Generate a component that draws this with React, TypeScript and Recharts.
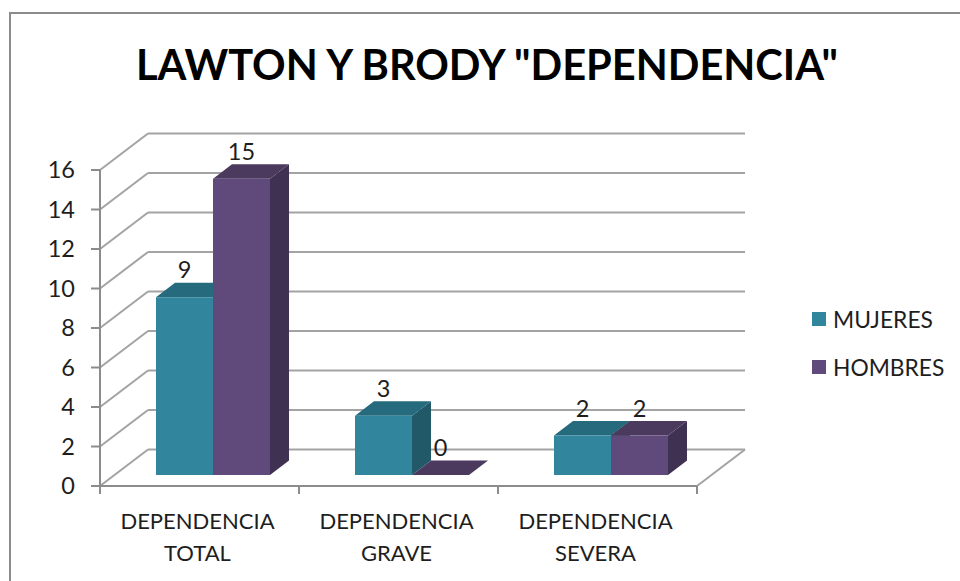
import React from 'react';
import { BarChart, Bar, XAxis, YAxis, CartesianGrid, LabelList } from 'recharts';

const categories = ['DEPENDENCIA TOTAL', 'DEPENDENCIA GRAVE', 'DEPENDENCIA SEVERA'];
const mujeres = [9, 3, 2];
const hombres = [15, 0, 2];
const yTicks = [0, 2, 4, 6, 8, 10, 12, 14, 16];

const legendItems = [
  { name: 'MUJERES', color: '#31859C' },
  { name: 'HOMBRES', color: '#604A7B' },
];

const data = categories.map((name, i) => ({ name, mujeres: mujeres[i], hombres: hombres[i] }));

const FONT = 'Lato, sans-serif';
const GRID = '#A3A3A3';
const AXIS = '#8C8C8C';
const TEXT = '#1E1E1E';

const PLOT_LEFT = 100;
const PLOT_TOP = 170;
const PLOT_W = 597;
const PLOT_H = 316;
const WALL_DX = 48;
const WALL_DY = 36.5;
const BAR_DX = 13;
const BAR_DY = 11;
const DEPTH_DX = 19;
const DEPTH_DY = 14.5;

const GridLine = (props: any) => {
  const { x1, x2, y1 } = props;
  const isFloor = Math.abs(y1 - (PLOT_TOP + PLOT_H)) < 1;
  return (
    <g stroke={GRID} strokeWidth={2} fill="none">
      <line x1={x1 + WALL_DX} y1={y1 - WALL_DY} x2={x2 + WALL_DX} y2={y1 - WALL_DY} />
      <line x1={x1} y1={y1} x2={x1 + WALL_DX} y2={y1 - WALL_DY} />
      {isFloor && <line x1={x2} y1={y1} x2={x2 + WALL_DX} y2={y1 - WALL_DY} />}
    </g>
  );
};

const Bar3D = (props: any) => {
  const { x, y, width, height, fill, topFill, sideFill } = props;
  const left = x + BAR_DX;
  const right = left + width;
  const top = y - BAR_DY;
  const bottom = top + height;
  const toPts = (pts: number[][]) => pts.map((p) => p.join(',')).join(' ');
  return (
    <g>
      <polygon
        fill={sideFill}
        points={toPts([[right, top], [right + DEPTH_DX, top - DEPTH_DY], [right + DEPTH_DX, bottom - DEPTH_DY], [right, bottom]])}
      />
      <polygon
        fill={topFill}
        points={toPts([[left, top], [left + DEPTH_DX, top - DEPTH_DY], [right + DEPTH_DX, top - DEPTH_DY], [right, top]])}
      />
      {height > 0 && <rect x={left} y={top} width={width} height={height} fill={fill} />}
    </g>
  );
};

const BarValue = (props: any) => {
  const { x, y, width, value } = props;
  return (
    <text x={x + BAR_DX + width / 2} y={y - 30} textAnchor="middle" fontFamily={FONT} fontSize={23.5} fill={TEXT}>
      {value}
    </text>
  );
};

const CategoryTick = (props: any) => {
  const { x, payload, index } = props;
  const band = PLOT_W / categories.length;
  const words = String(payload.value).split(' ');
  const axisY = PLOT_TOP + PLOT_H;
  return (
    <g>
      <line x1={x - band / 2} y1={axisY} x2={x - band / 2} y2={axisY + 8} stroke={AXIS} strokeWidth={2} />
      {index === categories.length - 1 && (
        <line x1={x + band / 2} y1={axisY} x2={x + band / 2} y2={axisY + 8} stroke={AXIS} strokeWidth={2} />
      )}
      <text textAnchor="middle" fontFamily={FONT} fontSize={22} fill={TEXT}>
        <tspan x={x - 2} y={axisY + 43}>{words[0]}</tspan>
        <tspan x={x - 2} y={axisY + 75}>{words[1]}</tspan>
      </text>
    </g>
  );
};

export default function App() {
  return (
    <div style={{ position: 'absolute', left: 0, top: 0, width: 960, height: 581, background: '#fff', overflow: 'hidden' }}>
      <div style={{ position: 'absolute', left: 9, top: 12, width: 960, height: 600, borderLeft: `2px solid ${AXIS}`, borderTop: `2px solid ${AXIS}` }} />
      <BarChart
        width={960}
        height={581}
        data={data}
        barSize={57}
        barGap={0}
        margin={{ top: PLOT_TOP, right: 960 - PLOT_LEFT - PLOT_W, bottom: 0, left: 40 }}
        style={{ position: 'absolute', left: 0, top: 0 }}
      >
        <text x={487} y={80} textAnchor="middle" fontFamily={FONT} fontWeight={700} fontSize={41.6} fill="#000">
          LAWTON Y BRODY "DEPENDENCIA"
        </text>
        <CartesianGrid vertical={false} horizontal={(p: any) => <GridLine key={p.key} {...p} />} />
        <XAxis
          dataKey="name"
          height={581 - PLOT_TOP - PLOT_H}
          axisLine={{ stroke: AXIS, strokeWidth: 2 }}
          tickLine={false}
          interval={0}
          tick={<CategoryTick />}
        />
        <YAxis
          width={60}
          domain={[0, 16]}
          ticks={yTicks}
          interval={0}
          axisLine={{ stroke: AXIS, strokeWidth: 2 }}
          tickLine={{ stroke: AXIS, strokeWidth: 2 }}
          tickSize={9}
          tickMargin={16}
          tick={{ fill: TEXT, fontSize: 23.5, fontFamily: FONT }}
        />
        <Bar
          dataKey="mujeres"
          fill="#31859C"
          isAnimationActive={false}
          shape={(p: any) => <Bar3D {...p} fill="#31859C" topFill="#266A7D" sideFill="#215968" />}
        >
          <LabelList dataKey="mujeres" content={<BarValue />} />
        </Bar>
        <Bar
          dataKey="hombres"
          fill="#604A7B"
          isAnimationActive={false}
          shape={(p: any) => <Bar3D {...p} fill="#604A7B" topFill="#4B3A5E" sideFill="#3F3151" />}
        >
          <LabelList dataKey="hombres" content={<BarValue />} />
        </Bar>
      </BarChart>
      {legendItems.map((item, i) => (
        <div
          key={item.name}
          style={{ position: 'absolute', left: 812, top: 305 + i * 47.5, height: 28, display: 'flex', alignItems: 'center', fontFamily: FONT, fontSize: 22.8, color: TEXT }}
        >
          <span style={{ width: 14, height: 14, background: item.color, marginRight: 7 }} />
          {item.name}
        </div>
      ))}
    </div>
  );
}
